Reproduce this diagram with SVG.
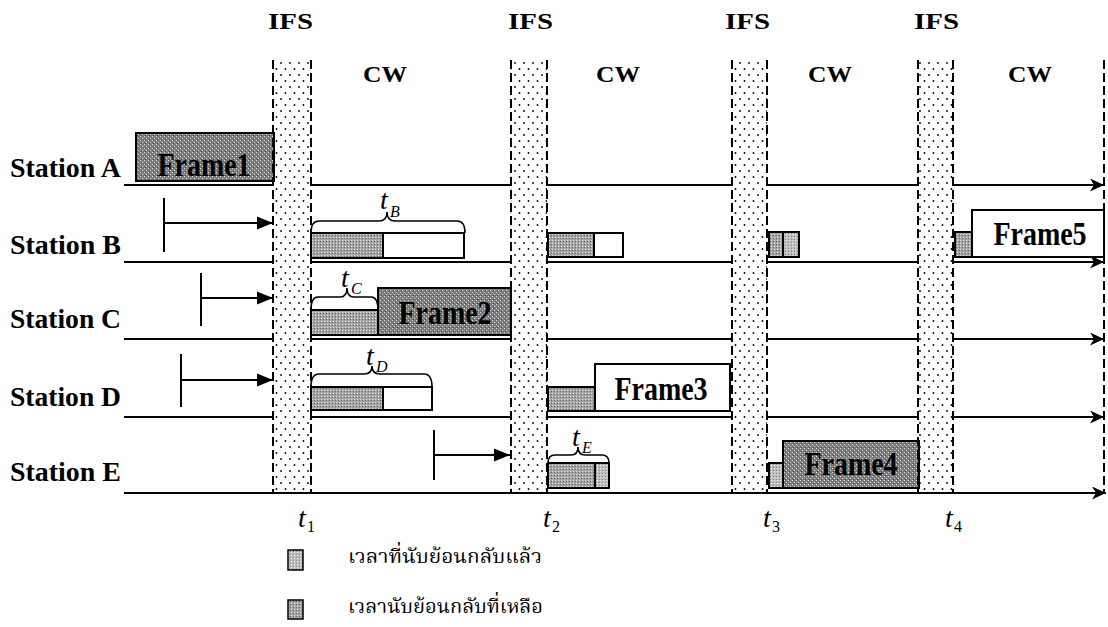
<svg xmlns="http://www.w3.org/2000/svg" width="1108" height="627" viewBox="0 0 1108 627">
<style>
.lbl{font-family:"Liberation Serif","Times New Roman",serif;font-weight:bold;fill:#000}
.frm{font-family:"Liberation Serif","Times New Roman",serif;font-weight:bold;font-size:28px;fill:#000;text-anchor:middle}
.it{font-family:"Liberation Serif","Times New Roman",serif;font-style:italic;fill:#000}
.sub{font-family:"Liberation Serif","Times New Roman",serif;fill:#000}
.thai{font-family:"Liberation Serif","Noto Serif Thai","Noto Sans Thai","DejaVu Sans",serif;font-size:20px;fill:#000}
.row{stroke:#000;stroke-width:2;fill:none}
.dash{stroke:#000;stroke-width:2;stroke-dasharray:9 4;fill:none}
.box{stroke:#000;stroke-width:2}
.brace{stroke:#000;stroke-width:1.6;fill:none}
</style>
<defs>
<pattern id="ifsDots" width="9" height="12" patternUnits="userSpaceOnUse"><rect width="9" height="12" fill="#fff"/><circle cx="2" cy="3" r="0.9" fill="#000"/><circle cx="6.5" cy="9" r="0.9" fill="#000"/></pattern>
<pattern id="dark" width="4" height="4" patternUnits="userSpaceOnUse"><rect width="4" height="4" fill="#7c7c7c"/><rect x="0" y="0" width="1" height="1" fill="#dcdcdc"/><rect x="2" y="2" width="1" height="1" fill="#dcdcdc"/><rect x="1" y="3" width="1" height="1" fill="#4a4a4a"/></pattern>
<pattern id="mid" width="3" height="3" patternUnits="userSpaceOnUse"><rect width="3" height="3" fill="#a4a4a4"/><rect x="0" y="0" width="1" height="1" fill="#e4e4e4"/><rect x="2" y="1" width="1" height="1" fill="#666"/></pattern>
<pattern id="light" width="3" height="3" patternUnits="userSpaceOnUse"><rect width="3" height="3" fill="#bdbdbd"/><rect x="0" y="0" width="1" height="1" fill="#eee"/><rect x="2" y="2" width="1" height="1" fill="#888"/></pattern>
<marker id="tri" markerUnits="userSpaceOnUse" markerWidth="17" markerHeight="14" refX="16" refY="7" orient="auto"><path d="M0,0.5 L16,7 L0,13.5 z" fill="#000"/></marker>
<marker id="barb" markerUnits="userSpaceOnUse" markerWidth="15" markerHeight="13" refX="14" refY="6.5" orient="auto"><path d="M0,0 L14,6.5 L0,13 L4,6.5 z" fill="#000"/></marker>
</defs>

<!-- IFS bands -->
<g id="ifs-bands">
<rect x="273" y="60" width="38" height="433" fill="url(#ifsDots)"/>
<rect x="511" y="60" width="36" height="433" fill="url(#ifsDots)"/>
<rect x="732" y="60" width="35" height="433" fill="url(#ifsDots)"/>
<rect x="918" y="60" width="35" height="433" fill="url(#ifsDots)"/>
</g>

<g id="headers">
<text class="lbl" x="268" y="29" font-size="23" textLength="45" lengthAdjust="spacingAndGlyphs">IFS</text>
<text class="lbl" x="508" y="29" font-size="23" textLength="45" lengthAdjust="spacingAndGlyphs">IFS</text>
<text class="lbl" x="725" y="29" font-size="23" textLength="45" lengthAdjust="spacingAndGlyphs">IFS</text>
<text class="lbl" x="914" y="29" font-size="23" textLength="45" lengthAdjust="spacingAndGlyphs">IFS</text>
<text class="lbl" x="363" y="82" font-size="23" textLength="44" lengthAdjust="spacingAndGlyphs">CW</text>
<text class="lbl" x="596" y="82" font-size="23" textLength="44" lengthAdjust="spacingAndGlyphs">CW</text>
<text class="lbl" x="808" y="82" font-size="23" textLength="44" lengthAdjust="spacingAndGlyphs">CW</text>
<text class="lbl" x="1008" y="82" font-size="23" textLength="44" lengthAdjust="spacingAndGlyphs">CW</text>
</g>

<g id="station-labels">
<text class="lbl" x="10" y="177" font-size="27" textLength="111" lengthAdjust="spacingAndGlyphs">Station A</text>
<text class="lbl" x="10" y="254" font-size="27" textLength="111" lengthAdjust="spacingAndGlyphs">Station B</text>
<text class="lbl" x="10" y="328" font-size="27" textLength="111" lengthAdjust="spacingAndGlyphs">Station C</text>
<text class="lbl" x="10" y="406" font-size="27" textLength="111" lengthAdjust="spacingAndGlyphs">Station D</text>
<text class="lbl" x="10" y="481" font-size="27" textLength="111" lengthAdjust="spacingAndGlyphs">Station E</text>
</g>

<!-- frames and backoff bars -->
<g id="frame1"><rect class="box" x="136" y="133" width="138" height="48" fill="url(#dark)"/><text class="frm" transform="translate(204,176) scale(1,1.2)">Frame1</text></g>

<g id="bar-B1"><rect class="box" x="311" y="233" width="72" height="25" fill="url(#mid)"/><rect class="box" x="383" y="233" width="81" height="25" fill="#fff"/></g>
<g id="bar-C1"><rect class="box" x="311" y="310" width="67" height="25" fill="url(#mid)"/></g>
<g id="frame2"><rect class="box" x="378" y="288" width="133" height="47" fill="url(#dark)"/><text class="frm" transform="translate(445,324) scale(1,1.2)">Frame2</text></g>
<g id="bar-D1"><rect class="box" x="311" y="387" width="72" height="23" fill="url(#mid)"/><rect class="box" x="383" y="387" width="49" height="23" fill="#fff"/></g>

<g id="bar-B2"><rect class="box" x="548" y="233" width="46" height="24" fill="url(#mid)"/><rect class="box" x="594" y="233" width="29" height="24" fill="#fff"/></g>
<g id="bar-D2"><rect class="box" x="548" y="387" width="47" height="24" fill="url(#mid)"/></g>
<g id="frame3"><rect class="box" x="595" y="364" width="135" height="47" fill="#fff"/><text class="frm" transform="translate(661,400) scale(1,1.2)">Frame3</text></g>
<g id="bar-E2"><rect class="box" x="548" y="463" width="47" height="25" fill="url(#mid)"/><rect class="box" x="595" y="463" width="14" height="25" fill="url(#light)"/></g>

<g id="bar-B3"><rect class="box" x="769" y="232" width="14" height="25" fill="url(#mid)"/><rect class="box" x="783" y="232" width="16" height="25" fill="url(#light)"/></g>
<g id="bar-E3"><rect class="box" x="769" y="463" width="14" height="25" fill="url(#light)"/></g>
<g id="frame4"><rect class="box" x="783" y="441" width="136" height="47" fill="url(#dark)"/><text class="frm" transform="translate(851,475) scale(1,1.2)">Frame4</text></g>

<g id="bar-B4"><rect class="box" x="955" y="232" width="17" height="25" fill="url(#mid)"/></g>
<g id="frame5"><rect class="box" x="972" y="210" width="132" height="47" fill="#fff"/><text class="frm" transform="translate(1040,245) scale(1,1.2)">Frame5</text></g>

<!-- braces -->
<g id="braces">
<path class="brace" d="M311,233 Q311,221 319,221 L379,221 Q387,221 387,212 Q387,221 395,221 L457,221 Q465,221 465,233"/>
<path class="brace" d="M311,310 Q311,297 318,297 L340,297 Q347,297 347,288 Q347,297 354,297 L371,297 Q378,297 378,310"/>
<path class="brace" d="M311,387 Q311,374 319,374 L364,374 Q372,374 372,366 Q372,374 380,374 L424,374 Q432,374 432,387"/>
<path class="brace" d="M548,463 Q548,455 555,455 L571,455 Q578,455 578,447 Q578,455 585,455 L602,455 Q609,455 609,463"/>
</g>
<g id="brace-labels">
<text class="it" x="380" y="209" font-size="28">t</text><text class="it" x="390" y="217" font-size="16">B</text>
<text class="it" x="341" y="287" font-size="28">t</text><text class="it" x="351" y="294" font-size="16">C</text>
<text class="it" x="366" y="365" font-size="28">t</text><text class="it" x="376" y="372" font-size="16">D</text>
<text class="it" x="572" y="446" font-size="28">t</text><text class="it" x="582" y="453" font-size="16">E</text>
</g>

<!-- connectors -->
<g id="connectors">
<path class="row" d="M124,185 H273 M311,185 H511 M547,185 H732 M767,185 H918"/>
<line class="row" x1="953" y1="185" x2="1104" y2="185" marker-end="url(#barb)"/>
<path class="row" d="M124,262 H273 M311,262 H511 M547,262 H732 M767,262 H918"/>
<line class="row" x1="953" y1="262" x2="1104" y2="262" marker-end="url(#barb)"/>
<path class="row" d="M124,339 H273 M311,339 H511 M547,339 H732 M767,339 H918"/>
<line class="row" x1="953" y1="339" x2="1104" y2="339" marker-end="url(#barb)"/>
<path class="row" d="M124,417 H273 M311,417 H511 M547,417 H732 M767,417 H918"/>
<line class="row" x1="953" y1="417" x2="1104" y2="417" marker-end="url(#barb)"/>
<line class="row" x1="124" y1="493" x2="1106" y2="493" marker-end="url(#barb)"/>

<path class="row" d="M164,198 V252 M201,273 V326 M181,354 V407 M434,430 V480"/>
<line class="row" x1="164" y1="223" x2="273" y2="223" marker-end="url(#tri)"/>
<line class="row" x1="201" y1="298" x2="273" y2="298" marker-end="url(#tri)"/>
<line class="row" x1="181" y1="380" x2="273" y2="380" marker-end="url(#tri)"/>
<line class="row" x1="434" y1="455" x2="510" y2="455" marker-end="url(#tri)"/>

<path class="dash" d="M273,60 V493 M311,60 V493 M511,60 V493 M547,60 V493 M732,60 V493 M767,60 V493 M918,60 V493 M953,60 V493 M1104,60 V493"/>
</g>

<g id="time-labels">
<text class="it" x="298" y="527" font-size="28">t</text><text class="sub" x="307" y="532" font-size="16">1</text>
<text class="it" x="543" y="527" font-size="28">t</text><text class="sub" x="552" y="532" font-size="16">2</text>
<text class="it" x="763" y="527" font-size="28">t</text><text class="sub" x="772" y="532" font-size="16">3</text>
<text class="it" x="945" y="527" font-size="28">t</text><text class="sub" x="954" y="532" font-size="16">4</text>
</g>

<g id="legend">
<rect x="288" y="550" width="15" height="20" fill="url(#light)" stroke="#000" stroke-width="1.5"/>
<text class="thai" x="348" y="563" textLength="194" lengthAdjust="spacingAndGlyphs">เวลาที่นับย้อนกลับแล้ว</text>
<rect x="288" y="600" width="15" height="19" fill="url(#mid)" stroke="#000" stroke-width="1.5"/>
<text class="thai" x="348" y="613" textLength="195" lengthAdjust="spacingAndGlyphs">เวลานับย้อนกลับที่เหลือ</text>
</g>
</svg>
